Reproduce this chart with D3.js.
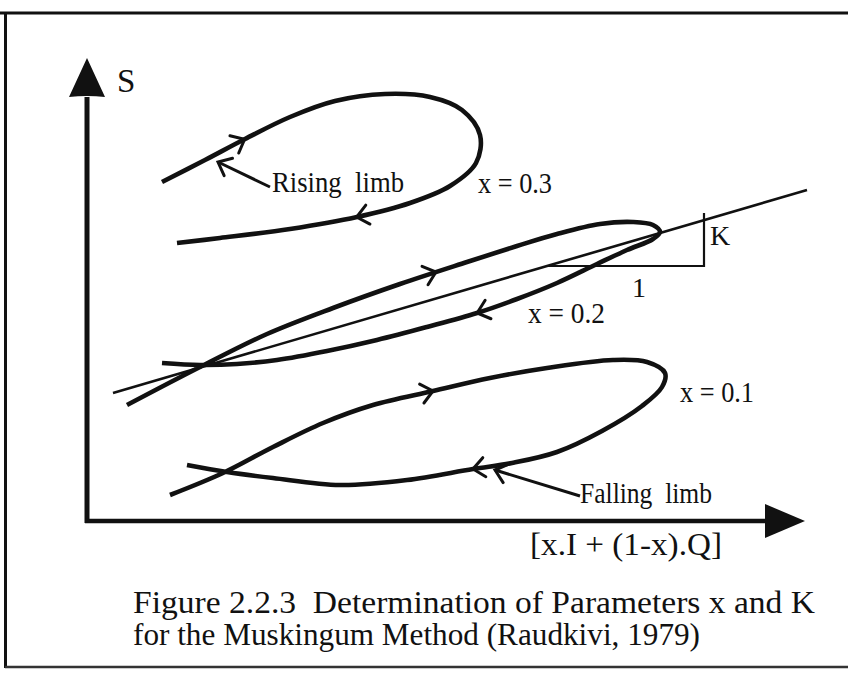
<!DOCTYPE html>
<html>
<head>
<meta charset="utf-8">
<script src="https://cdn.jsdelivr.net/npm/d3@7/dist/d3.min.js"></script>
<style>
  html, body { margin: 0; padding: 0; background: #fff; }
  svg { display: block; }
  text { font-family: "Liberation Serif", "DejaVu Serif", serif; fill: #111; white-space: pre; }
</style>
</head>
<body>
<svg id="chart" width="848" height="673"></svg>
<script>
// ---- data (weighted flow X vs storage S, arbitrary units) ----
const loopLabels = ["x = 0.3", "x = 0.2", "x = 0.1"];
const loop03 = [[75,339],[118,361],[158,382],[203,404],[248,420],[298,427],[343,424],[375,411],[393,386],[389,358],[363,335],[323,318],[270,304],[203,292],[133,283],[90,278]];
const loop02 = [[40,116],[113,154],[180,187],[246,213],[313,237],[380,259],[430,275],[470,287],[513,297],[546,299],[566,296],[573,289],[566,282],[540,271],[510,257],[470,238],[430,222],[390,208],[340,194],[290,181],[240,170],[190,161],[150,157],[113,156],[75,158]];
const loop01 = [[83,26],[136,48],[186,74],[236,98],[286,116],[346,130],[403,143],[460,153],[526,161],[560,159],[578,148],[575,134],[555,115],[515,90],[470,69],[425,58],[386,52],[320,41],[253,36],[186,43],[140,49],[100,56]];
const loops = [loop03, loop02, loop01];
const loopLabelPos = [[391,328],[441,198],[593,119]];
// direction arrows on the loops: [loop index, approx position]
const flowArrows = [[0,[158,382]],[0,[270,304]],[1,[350,247]],[1,[390,208]],[2,[346,130]],[2,[386,52]]];
// straight storage line S = K[xI+(1-x)Q]
const kLine = [[26,128],[720,331]];
const slopeTri = { x1: 460, x2: 617, yBase: 255, yTop: 308 };
const triLabels = [["K",[623,276]],["1",[545,224]]];
// limb pointers
const pointers = [
  { text: "Rising  limb", from: [183,334], to: [131,359], label: [185,329] },
  { text: "Falling  limb", from: [493,25], to: [408,51], label: [493,18] }
];
const axisLabels = { y: "S", x: "[x.I + (1-x).Q]" };
const caption = ["Figure 2.2.3  Determination of Parameters x and K", "for the Muskingum Method (Raudkivi, 1979)"];

// ---- scales ----
const x = d3.scaleLinear().domain([0, 718]).range([87, 805]);
const y = d3.scaleLinear().domain([0, 463]).range([521, 58]);

const svg = d3.select("#chart");

// frame
svg.append("line").attr("x1",0).attr("x2",848).attr("y1",13).attr("y2",13).attr("stroke","#111").attr("stroke-width",3);
svg.append("line").attr("x1",5.5).attr("x2",5.5).attr("y1",12).attr("y2",668).attr("stroke","#111").attr("stroke-width",3);
svg.append("line").attr("x1",5).attr("x2",848).attr("y1",667).attr("y2",667).attr("stroke","#333").attr("stroke-width",2.5);

// axes
const g = svg.append("g");
g.append("line").attr("x1", x(0)).attr("x2", x(0)).attr("y1", y(0)+2).attr("y2", y(424)).attr("stroke","#111").attr("stroke-width",5);
g.append("line").attr("x1", x(0)-2).attr("x2", x(678)).attr("y1", y(0)).attr("y2", y(0)).attr("stroke","#111").attr("stroke-width",4.5);
g.append("path").attr("d", `M${x(0)},${y(463)} L${x(0)+18},${y(424)} Q${x(0)},${y(426)} ${x(0)-18},${y(424)} Z`).attr("fill","#111");
g.append("path").attr("d", `M${x(718)},${y(0)} L${x(678)},${y(0)-17} L${x(678)},${y(0)+17} Z`).attr("fill","#111");
g.append("text").attr("x", x(30)).attr("y", y(429)).attr("font-size", 33).text(axisLabels.y);
g.append("text").attr("x", x(443)).attr("y", y(-34)).attr("font-size", 31)
  .attr("textLength", 192).attr("lengthAdjust","spacingAndGlyphs").text(axisLabels.x);

// straight line
g.append("line").attr("x1", x(kLine[0][0])).attr("y1", y(kLine[0][1])).attr("x2", x(kLine[1][0])).attr("y2", y(kLine[1][1]))
  .attr("stroke","#111").attr("stroke-width",2.6);
// slope triangle
g.append("path").attr("d", `M${x(slopeTri.x1)},${y(slopeTri.yBase)} L${x(slopeTri.x2)},${y(slopeTri.yBase)} L${x(slopeTri.x2)},${y(slopeTri.yTop)}`)
  .attr("fill","none").attr("stroke","#111").attr("stroke-width",2.2);
triLabels.forEach(([t,p]) => g.append("text").attr("x", x(p[0])).attr("y", y(p[1])).attr("font-size", 28).text(t));

// loops
const line = d3.line().x(d => x(d[0])).y(d => y(d[1])).curve(d3.curveCatmullRom.alpha(0.5));
const paths = loops.map(pts => g.append("path").attr("d", line(pts)).attr("fill","none")
  .attr("stroke","#111").attr("stroke-width",4.6).attr("stroke-linecap","butt").node());
loopLabels.forEach((t,i) => g.append("text").attr("x", x(loopLabelPos[i][0])).attr("y", y(loopLabelPos[i][1]))
  .attr("font-size", 29).attr("textLength", i === 1 ? 77 : 74).attr("lengthAdjust","spacingAndGlyphs").text(t));

function chevron(tx, ty, ang, len, sw) {
  const a = 0.7;
  const p1 = [tx - len*Math.cos(ang - a), ty - len*Math.sin(ang - a)];
  const p2 = [tx - len*Math.cos(ang + a), ty - len*Math.sin(ang + a)];
  g.append("path").attr("d", `M${p1[0]},${p1[1]} L${tx},${ty} L${p2[0]},${p2[1]}`)
    .attr("fill","none").attr("stroke","#111").attr("stroke-width",sw).attr("stroke-linecap","round").attr("stroke-linejoin","miter");
}

flowArrows.forEach(([li, pt]) => {
  const p = paths[li], L = p.getTotalLength();
  const px = x(pt[0]), py = y(pt[1]);
  let best = 0, bd = Infinity;
  for (let l = 0; l <= L; l += 1) {
    const q = p.getPointAtLength(l); const d = (q.x-px)**2 + (q.y-py)**2;
    if (d < bd) { bd = d; best = l; }
  }
  const a = p.getPointAtLength(Math.max(0,best-3)), b = p.getPointAtLength(Math.min(L,best+3));
  const ang = Math.atan2(b.y-a.y, b.x-a.x);
  const c = p.getPointAtLength(best);
  chevron(c.x, c.y, ang, 15, 3);
});

// limb pointers
pointers.forEach(pt => {
  const x1 = x(pt.from[0]), y1 = y(pt.from[1]), x2 = x(pt.to[0]), y2 = y(pt.to[1]);
  g.append("line").attr("x1",x1).attr("y1",y1).attr("x2",x2).attr("y2",y2).attr("stroke","#111").attr("stroke-width",3);
  chevron(x2, y2, Math.atan2(y2-y1, x2-x1), 15, 3);
  g.append("text").attr("x", x(pt.label[0])).attr("y", y(pt.label[1])).attr("font-size", 29)
    .attr("textLength", 132).attr("lengthAdjust","spacingAndGlyphs").text(pt.text);
});

// caption
svg.append("text").attr("x", 133).attr("y", 613).attr("font-size", 31)
  .attr("textLength", 682).attr("lengthAdjust","spacingAndGlyphs").text(caption[0]);
svg.append("text").attr("x", 133).attr("y", 645).attr("font-size", 31)
  .attr("textLength", 567).attr("lengthAdjust","spacingAndGlyphs").text(caption[1]);
</script>
</body>
</html>
